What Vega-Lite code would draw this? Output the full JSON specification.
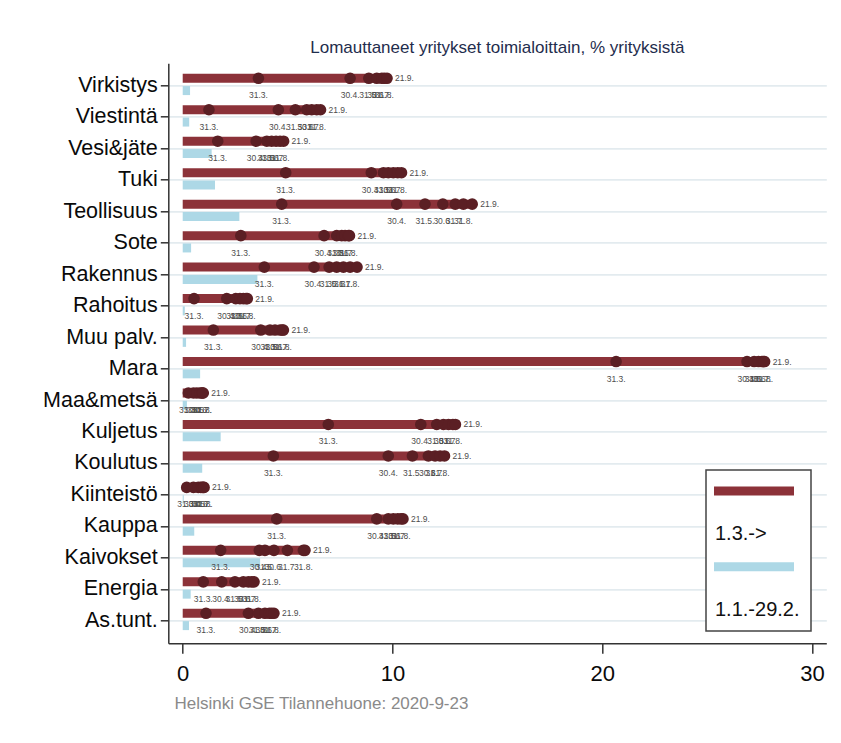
{
  "$schema": "https://vega.github.io/schema/vega-lite/v6.json",
  "width": 658,
  "height": 580,
  "autosize": {"type": "none"},
  "padding": {"left": 168.3, "top": 63.3, "right": 14.7, "bottom": 99.7},
  "background": "white",
  "title": {
    "text": "Lomauttaneet yritykset toimialoittain, % yrityksistä",
    "font": "Liberation Sans, Arial",
    "fontSize": 17,
    "fontWeight": "normal",
    "color": "#1f2d4d",
    "anchor": "middle",
    "frame": "group",
    "offset": 6
  },
  "config": {"view": {"stroke": null}},
  "datasets": {
    "dots": [
      {"sector": "Virkistys", "date": "31.3.", "value": 3.61},
      {"sector": "Virkistys", "date": "30.4.", "value": 7.98},
      {"sector": "Virkistys", "date": "31.5.", "value": 8.87},
      {"sector": "Virkistys", "date": "30.6.", "value": 9.25},
      {"sector": "Virkistys", "date": "31.7.", "value": 9.49},
      {"sector": "Virkistys", "date": "31.8.", "value": 9.61},
      {"sector": "Virkistys", "date": "21.9.", "value": 9.74},
      {"sector": "Viestintä", "date": "31.3.", "value": 1.25},
      {"sector": "Viestintä", "date": "30.4.", "value": 4.56},
      {"sector": "Viestintä", "date": "31.5.", "value": 5.37},
      {"sector": "Viestintä", "date": "30.6.", "value": 5.91},
      {"sector": "Viestintä", "date": "31.7.", "value": 6.15},
      {"sector": "Viestintä", "date": "31.8.", "value": 6.39},
      {"sector": "Viestintä", "date": "21.9.", "value": 6.57},
      {"sector": "Vesi&jäte", "date": "31.3.", "value": 1.67},
      {"sector": "Vesi&jäte", "date": "30.4.", "value": 3.5},
      {"sector": "Vesi&jäte", "date": "31.5.", "value": 4.01},
      {"sector": "Vesi&jäte", "date": "30.6.", "value": 4.24},
      {"sector": "Vesi&jäte", "date": "31.7.", "value": 4.45},
      {"sector": "Vesi&jäte", "date": "31.8.", "value": 4.64},
      {"sector": "Vesi&jäte", "date": "21.9.", "value": 4.81},
      {"sector": "Tuki", "date": "31.3.", "value": 4.91},
      {"sector": "Tuki", "date": "30.4.", "value": 8.99},
      {"sector": "Tuki", "date": "31.5.", "value": 9.57},
      {"sector": "Tuki", "date": "30.6.", "value": 9.8},
      {"sector": "Tuki", "date": "31.7.", "value": 10.04},
      {"sector": "Tuki", "date": "31.8.", "value": 10.25},
      {"sector": "Tuki", "date": "21.9.", "value": 10.43},
      {"sector": "Teollisuus", "date": "31.3.", "value": 4.72},
      {"sector": "Teollisuus", "date": "30.4.", "value": 10.2},
      {"sector": "Teollisuus", "date": "31.5.", "value": 11.55},
      {"sector": "Teollisuus", "date": "30.6.", "value": 12.4},
      {"sector": "Teollisuus", "date": "31.7.", "value": 12.99},
      {"sector": "Teollisuus", "date": "31.8.", "value": 13.38},
      {"sector": "Teollisuus", "date": "21.9.", "value": 13.8},
      {"sector": "Sote", "date": "31.3.", "value": 2.77},
      {"sector": "Sote", "date": "30.4.", "value": 6.74},
      {"sector": "Sote", "date": "31.5.", "value": 7.34},
      {"sector": "Sote", "date": "30.6.", "value": 7.58},
      {"sector": "Sote", "date": "31.7.", "value": 7.74},
      {"sector": "Sote", "date": "31.8.", "value": 7.9},
      {"sector": "Sote", "date": "21.9.", "value": 7.95},
      {"sector": "Rakennus", "date": "31.3.", "value": 3.89},
      {"sector": "Rakennus", "date": "30.4.", "value": 6.26},
      {"sector": "Rakennus", "date": "31.5.", "value": 6.98},
      {"sector": "Rakennus", "date": "30.6.", "value": 7.34},
      {"sector": "Rakennus", "date": "31.7.", "value": 7.66},
      {"sector": "Rakennus", "date": "31.8.", "value": 7.98},
      {"sector": "Rakennus", "date": "21.9.", "value": 8.31},
      {"sector": "Rahoitus", "date": "31.3.", "value": 0.54},
      {"sector": "Rahoitus", "date": "30.4.", "value": 2.1},
      {"sector": "Rahoitus", "date": "31.5.", "value": 2.53},
      {"sector": "Rahoitus", "date": "30.6.", "value": 2.73},
      {"sector": "Rahoitus", "date": "31.7.", "value": 2.89},
      {"sector": "Rahoitus", "date": "31.8.", "value": 3.02},
      {"sector": "Rahoitus", "date": "21.9.", "value": 3.08},
      {"sector": "Muu palv.", "date": "31.3.", "value": 1.46},
      {"sector": "Muu palv.", "date": "30.4.", "value": 3.72},
      {"sector": "Muu palv.", "date": "31.5.", "value": 4.16},
      {"sector": "Muu palv.", "date": "30.6.", "value": 4.4},
      {"sector": "Muu palv.", "date": "31.7.", "value": 4.64},
      {"sector": "Muu palv.", "date": "31.8.", "value": 4.75},
      {"sector": "Muu palv.", "date": "21.9.", "value": 4.8},
      {"sector": "Mara", "date": "31.3.", "value": 20.66},
      {"sector": "Mara", "date": "30.4.", "value": 26.9},
      {"sector": "Mara", "date": "31.5.", "value": 27.24},
      {"sector": "Mara", "date": "30.6.", "value": 27.45},
      {"sector": "Mara", "date": "31.7.", "value": 27.61},
      {"sector": "Mara", "date": "31.8.", "value": 27.69},
      {"sector": "Mara", "date": "21.9.", "value": 27.74},
      {"sector": "Maa&metsä", "date": "31.3.", "value": 0.27},
      {"sector": "Maa&metsä", "date": "30.4.", "value": 0.51},
      {"sector": "Maa&metsä", "date": "31.5.", "value": 0.67},
      {"sector": "Maa&metsä", "date": "30.6.", "value": 0.82},
      {"sector": "Maa&metsä", "date": "31.7.", "value": 0.91},
      {"sector": "Maa&metsä", "date": "31.8.", "value": 0.95},
      {"sector": "Maa&metsä", "date": "21.9.", "value": 0.98},
      {"sector": "Kuljetus", "date": "31.3.", "value": 6.94},
      {"sector": "Kuljetus", "date": "30.4.", "value": 11.35},
      {"sector": "Kuljetus", "date": "31.5.", "value": 12.11},
      {"sector": "Kuljetus", "date": "30.6.", "value": 12.43},
      {"sector": "Kuljetus", "date": "31.7.", "value": 12.67},
      {"sector": "Kuljetus", "date": "31.8.", "value": 12.88},
      {"sector": "Kuljetus", "date": "21.9.", "value": 13.0},
      {"sector": "Koulutus", "date": "31.3.", "value": 4.32},
      {"sector": "Koulutus", "date": "30.4.", "value": 9.8},
      {"sector": "Koulutus", "date": "31.5.", "value": 10.95},
      {"sector": "Koulutus", "date": "30.6.", "value": 11.71},
      {"sector": "Koulutus", "date": "31.7.", "value": 12.03},
      {"sector": "Koulutus", "date": "31.8.", "value": 12.27},
      {"sector": "Koulutus", "date": "21.9.", "value": 12.48},
      {"sector": "Kiinteistö", "date": "31.3.", "value": 0.19},
      {"sector": "Kiinteistö", "date": "30.4.", "value": 0.51},
      {"sector": "Kiinteistö", "date": "31.5.", "value": 0.74},
      {"sector": "Kiinteistö", "date": "30.6.", "value": 0.86},
      {"sector": "Kiinteistö", "date": "31.7.", "value": 0.93},
      {"sector": "Kiinteistö", "date": "31.8.", "value": 0.98},
      {"sector": "Kiinteistö", "date": "21.9.", "value": 1.02},
      {"sector": "Kauppa", "date": "31.3.", "value": 4.48},
      {"sector": "Kauppa", "date": "30.4.", "value": 9.25},
      {"sector": "Kauppa", "date": "31.5.", "value": 9.8},
      {"sector": "Kauppa", "date": "30.6.", "value": 10.04},
      {"sector": "Kauppa", "date": "31.7.", "value": 10.25},
      {"sector": "Kauppa", "date": "31.8.", "value": 10.41},
      {"sector": "Kauppa", "date": "21.9.", "value": 10.5},
      {"sector": "Kaivokset", "date": "31.3.", "value": 1.81},
      {"sector": "Kaivokset", "date": "30.4.", "value": 3.65},
      {"sector": "Kaivokset", "date": "31.5.", "value": 3.92},
      {"sector": "Kaivokset", "date": "30.6.", "value": 4.35},
      {"sector": "Kaivokset", "date": "31.7.", "value": 4.99},
      {"sector": "Kaivokset", "date": "31.8.", "value": 5.75},
      {"sector": "Kaivokset", "date": "21.9.", "value": 5.83},
      {"sector": "Energia", "date": "31.3.", "value": 0.98},
      {"sector": "Energia", "date": "30.4.", "value": 1.86},
      {"sector": "Energia", "date": "31.5.", "value": 2.49},
      {"sector": "Energia", "date": "30.6.", "value": 2.89},
      {"sector": "Energia", "date": "31.7.", "value": 3.13},
      {"sector": "Energia", "date": "31.8.", "value": 3.29},
      {"sector": "Energia", "date": "21.9.", "value": 3.4},
      {"sector": "As.tunt.", "date": "31.3.", "value": 1.11},
      {"sector": "As.tunt.", "date": "30.4.", "value": 3.13},
      {"sector": "As.tunt.", "date": "31.5.", "value": 3.61},
      {"sector": "As.tunt.", "date": "30.6.", "value": 3.92},
      {"sector": "As.tunt.", "date": "31.7.", "value": 4.13},
      {"sector": "As.tunt.", "date": "31.8.", "value": 4.24},
      {"sector": "As.tunt.", "date": "21.9.", "value": 4.35}
    ],
    "pre": [
      {"sector": "Virkistys", "value": 0.35},
      {"sector": "Viestintä", "value": 0.31},
      {"sector": "Vesi&jäte", "value": 1.38},
      {"sector": "Tuki", "value": 1.54},
      {"sector": "Teollisuus", "value": 2.7},
      {"sector": "Sote", "value": 0.4},
      {"sector": "Rakennus", "value": 3.56},
      {"sector": "Rahoitus", "value": 0.1},
      {"sector": "Muu palv.", "value": 0.16},
      {"sector": "Mara", "value": 0.83},
      {"sector": "Maa&metsä", "value": 0.2},
      {"sector": "Kuljetus", "value": 1.81},
      {"sector": "Koulutus", "value": 0.93},
      {"sector": "Kiinteistö", "value": 0.05},
      {"sector": "Kauppa", "value": 0.55},
      {"sector": "Kaivokset", "value": 3.69},
      {"sector": "Energia", "value": 0.38},
      {"sector": "As.tunt.", "value": 0.3}
    ]
  },
  "encoding": {
    "y": {
      "field": "sector",
      "type": "nominal",
      "sort": ["Virkistys", "Viestintä", "Vesi&jäte", "Tuki", "Teollisuus", "Sote", "Rakennus", "Rahoitus", "Muu palv.", "Mara", "Maa&metsä", "Kuljetus", "Koulutus", "Kiinteistö", "Kauppa", "Kaivokset", "Energia", "As.tunt."],
      "scale": {"paddingInner": 0, "paddingOuter": 0.2145},
      "axis": {
        "title": null,
        "labelFont": "Liberation Sans, Arial",
        "labelFontSize": 21.5,
        "labelColor": "#0a0a0a",
        "labelPadding": 3,
        "labelLimit": 0,
        "tickSize": 8,
        "tickColor": "#333333",
        "tickWidth": 1.5,
        "domainColor": "#333333",
        "domainWidth": 1.5,
        "grid": true,
        "gridColor": "#e3ebef",
        "gridWidth": 1.8,
        "bandPosition": 0.5
      }
    },
    "x": {
      "field": "value",
      "type": "quantitative",
      "scale": {"domain": [-0.687, 30.68], "nice": false, "zero": false},
      "axis": {
        "values": [0, 10, 20, 30],
        "grid": false,
        "labelFont": "Liberation Sans, Arial",
        "labelFontSize": 22,
        "labelColor": "#0a0a0a",
        "labelPadding": 10,
        "labelFlush": false,
        "tickSize": 10,
        "tickColor": "#333333",
        "tickWidth": 1.5,
        "domainColor": "#333333",
        "domainWidth": 1.5,
        "title": "Helsinki GSE Tilannehuone: 2020-9-23",
        "titleFont": "Liberation Sans, Arial",
        "titleFontSize": 17,
        "titleFontWeight": "normal",
        "titleColor": "#8a8a8a",
        "titleAlign": "left",
        "titleAnchor": "start",
        "titleX": 5.7,
        "titlePadding": 11
      }
    }
  },
  "layer": [
    {
      "data": {"name": "pre"},
      "mark": {"type": "bar", "height": 9, "yOffset": 4.8},
      "encoding": {
        "x2": {"datum": 0},
        "color": {
          "datum": "1.1.-29.2.",
          "type": "nominal",
          "scale": {"domain": ["1.3.->", "1.1.-29.2."], "range": ["#8c3239", "#add8e6"]},
          "legend": {
            "orient": "none",
            "legendX": 537.7,
            "legendY": 406.7,
            "title": null,
            "direction": "vertical",
            "symbolType": "M-2.6,-0.9H13.4V0.9H-2.6Z",
            "symbolSize": 100,
            "symbolStrokeWidth": 0,
            "symbolOpacity": 1,
            "labelFont": "Liberation Sans, Arial",
            "labelFontSize": 20,
            "labelColor": "#111111",
            "labelOffset": -22,
            "padding": 11,
            "rowPadding": 12.7,
            "strokeColor": "#444444",
            "fillColor": "#ffffff",
            "encode": {
              "labels": {"update": {"dy": {"value": 43}}},
              "legend": {"update": {"strokeWidth": {"value": 1.5}}}
            }
          }
        }
      }
    },
    {
      "data": {"name": "dots"},
      "transform": [{"filter": "datum.date === '21.9.'"}],
      "mark": {"type": "bar", "height": 9, "yOffset": -7.5},
      "encoding": {
        "x2": {"datum": 0},
        "color": {"datum": "1.3.->", "type": "nominal"}
      }
    },
    {
      "data": {"name": "dots"},
      "mark": {"type": "circle", "size": 135, "opacity": 1, "color": "#5b1f24", "yOffset": -7.5}
    },
    {
      "data": {"name": "dots"},
      "transform": [{"filter": "datum.date !== '21.9.'"}],
      "mark": {"type": "text", "font": "Liberation Sans, Arial", "fontSize": 8.5, "color": "#4d4d4d", "align": "center", "baseline": "middle", "yOffset": 9.5},
      "encoding": {"text": {"field": "date"}}
    },
    {
      "data": {"name": "dots"},
      "transform": [{"filter": "datum.date === '21.9.'"}],
      "mark": {"type": "text", "font": "Liberation Sans, Arial", "fontSize": 8.5, "color": "#4d4d4d", "align": "left", "baseline": "middle", "dx": 8, "yOffset": -7.5},
      "encoding": {"text": {"field": "date"}}
    }
  ]
}
